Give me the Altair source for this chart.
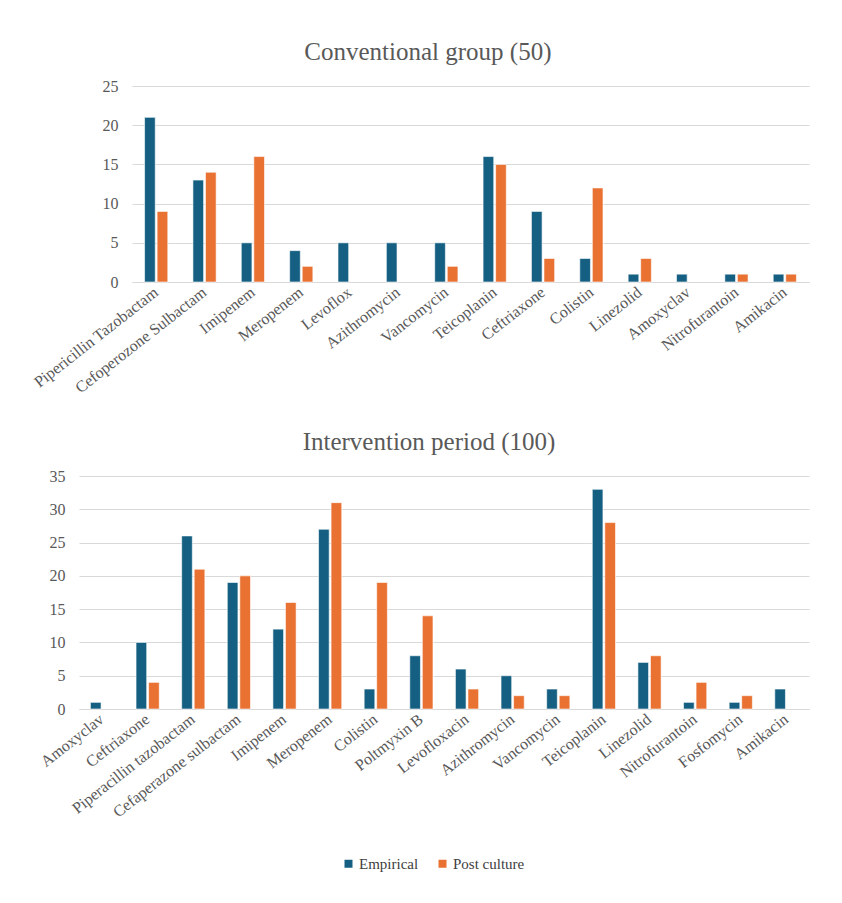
import altair as alt
import pandas as pd

conv_drugs = ["Pipericillin Tazobactam", "Cefoperozone Sulbactam", "Imipenem", "Meropenem",
              "Levoflox", "Azithromycin", "Vancomycin", "Teicoplanin", "Ceftriaxone",
              "Colistin", "Linezolid", "Amoxyclav", "Nitrofurantoin", "Amikacin"]
conv_empirical = [21, 13, 5, 4, 5, 5, 5, 16, 9, 3, 1, 1, 1, 1]
conv_post = [9, 14, 16, 2, 0, 0, 2, 15, 3, 12, 3, 0, 1, 1]

int_drugs = ["Amoxyclav", "Ceftriaxone", "Piperacillin tazobactam", "Cefaperazone sulbactam",
             "Imipenem", "Meropenem", "Colistin", "Poltmyxin B", "Levofloxacin",
             "Azithromycin", "Vancomycin", "Teicoplanin", "Linezolid", "Nitrofurantoin",
             "Fosfomycin", "Amikacin"]
int_empirical = [1, 10, 26, 19, 12, 27, 3, 8, 6, 5, 3, 33, 7, 1, 1, 3]
int_post = [0, 4, 21, 20, 16, 31, 19, 14, 3, 2, 2, 28, 8, 4, 2, 0]

series_names = ["Empirical", "Post culture"]
series_colors = ["#156082", "#E97132"]

FONT = "Liberation Serif"
TXT = "#595959"


def to_long(drugs, emp, post):
    rows = []
    for d, e, p in zip(drugs, emp, post):
        rows.append({"drug": d, "series": series_names[0], "value": e})
        rows.append({"drug": d, "series": series_names[1], "value": p})
    return pd.DataFrame(rows)


def title(text, dx):
    return alt.Title(text, fontSize=25, font=FONT, color=TXT, fontWeight="normal",
                     offset=13, dx=dx, anchor="middle")


def panel(df, drugs, ymax, w, h, pad, legend, ttl=None):
    props = dict(width=w, height=h)
    if ttl is not None:
        props["title"] = ttl
    return (
        alt.Chart(df)
        .transform_filter("datum.value > 0")
        .mark_bar(stroke="white", strokeWidth=0.6)
        .encode(
            x=alt.X("drug:N", sort=drugs,
                    scale=alt.Scale(paddingInner=pad, paddingOuter=pad / 2),
                    axis=alt.Axis(title=None, labelAngle=-38, ticks=False,
                                  labelAlign="right", labelBaseline="middle",
                                  domainColor="#d9d9d9", labelFontSize=16,
                                  labelPadding=8, labelFont=FONT, labelColor=TXT)),
            xOffset=alt.XOffset("series:N", sort=series_names,
                                scale=alt.Scale(paddingInner=0.15)),
            y=alt.Y("value:Q", scale=alt.Scale(domain=[0, ymax]),
                    axis=alt.Axis(title=None, values=list(range(0, ymax + 1, 5)),
                                  ticks=False, domain=False, gridColor="#d9d9d9",
                                  labelFontSize=16, labelPadding=14,
                                  labelFont=FONT, labelColor=TXT)),
            color=alt.Color("series:N",
                            scale=alt.Scale(domain=series_names, range=series_colors),
                            legend=legend),
        )
        .properties(**props)
    )


legend = alt.Legend(title=None, orient="none", legendX=262, legendY=770,
                    direction="horizontal",
                    symbolType="square", symbolSize=64, labelFontSize=15,
                    labelFont=FONT, labelColor="#404040", columnPadding=16,
                    labelOffset=3, symbolStrokeWidth=0)

spacer = (
    alt.Chart(pd.DataFrame({"a": [0]}))
    .mark_point(opacity=0)
    .encode(x=alt.value(0), y=alt.value(0))
    .properties(width=53, height=196)
)

top_panel = panel(to_long(conv_drugs, conv_empirical, conv_post), conv_drugs,
                  25, 677, 196, 0.52, legend)
top = alt.hconcat(spacer, top_panel, spacing=0, bounds="flush").properties(
    title=title("Conventional group (50)", 8))

bottom = panel(to_long(int_drugs, int_empirical, int_post), int_drugs,
               35, 730, 233, 0.5, legend,
               ttl=title("Intervention period (100)", -15))

chart = (
    alt.vconcat(top, bottom, spacing=34)
    .properties(padding={"left": 30, "top": 40, "right": 10, "bottom": 10})
    .configure(background="white")
    .configure_view(stroke="transparent", strokeWidth=0)
)

chart.save("out.html", embed_options={"renderer": "svg", "actions": False})
